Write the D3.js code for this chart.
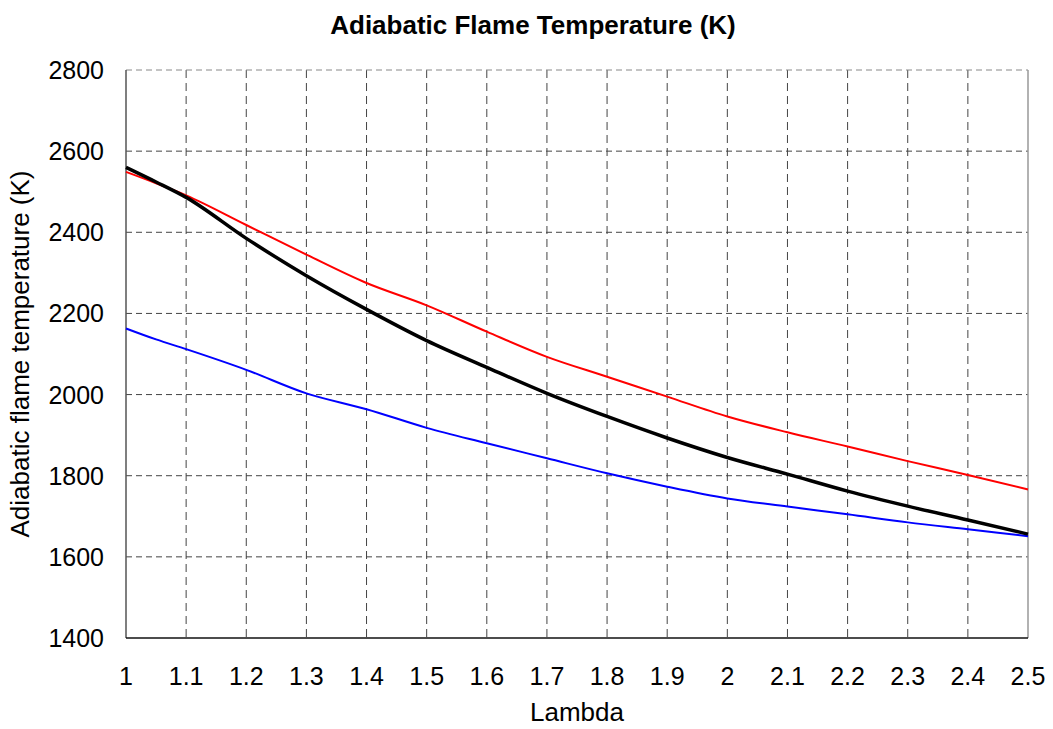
<!DOCTYPE html>
<html>
<head>
<meta charset="utf-8">
<script src="https://cdn.jsdelivr.net/npm/d3@7"></script>
<style>
  body { margin: 0; background: #fff; }
  text { font-family: "Liberation Sans", Arial, sans-serif; fill: #000; }
</style>
</head>
<body>
<div id="chart"></div>
<script>
// data
const lambda = [1.0, 1.05, 1.1, 1.2, 1.3, 1.4, 1.5, 1.6, 1.7, 1.8, 1.9, 2.0, 2.1, 2.2, 2.3, 2.4, 2.5];
const blackSeries = [2560, 2524, 2486, 2385, 2293, 2210, 2133, 2067, 2003, 1946, 1893, 1845, 1804, 1762, 1725, 1691, 1656];
const redSeries = [2549, 2521, 2491, 2418, 2345, 2275, 2220, 2155, 2093, 2044, 1995, 1946, 1907, 1872, 1836, 1802, 1766];
const blueSeries = [2163, 2136, 2112, 2061, 2003, 1964, 1918, 1880, 1843, 1806, 1773, 1744, 1724, 1705, 1685, 1668, 1651];
const xTicks = [1, 1.1, 1.2, 1.3, 1.4, 1.5, 1.6, 1.7, 1.8, 1.9, 2, 2.1, 2.2, 2.3, 2.4, 2.5];
const yTicks = [1400, 1600, 1800, 2000, 2200, 2400, 2600, 2800];

const width = 1053, height = 729;
const margin = {top: 70, right: 25, bottom: 91, left: 126};

const svg = d3.select("#chart").append("svg")
  .attr("width", width)
  .attr("height", height);

const x = d3.scaleLinear().domain([1, 2.5]).range([margin.left, width - margin.right]);
const y = d3.scaleLinear().domain([1400, 2800]).range([height - margin.bottom, margin.top]);

// grid
svg.append("g").selectAll("line")
  .data(xTicks.slice(1, -1))
  .join("line")
  .attr("x1", d => x(d)).attr("x2", d => x(d))
  .attr("y1", y(2800)).attr("y2", y(1400))
  .attr("stroke", "#444").attr("stroke-width", 1)
  .attr("stroke-dasharray", "8,5");

svg.append("g").selectAll("line")
  .data(yTicks.slice(1))
  .join("line")
  .attr("x1", x(1)).attr("x2", x(2.5))
  .attr("y1", d => y(d)).attr("y2", d => y(d))
  .attr("stroke", d => d === 2800 ? "#888" : "#444").attr("stroke-width", 1)
  .attr("stroke-dasharray", "6,4");

// frame
svg.append("line")
  .attr("x1", x(1)).attr("x2", x(1)).attr("y1", y(2800)).attr("y2", y(1400))
  .attr("stroke", "#555").attr("stroke-width", 1.5);
svg.append("line")
  .attr("x1", x(2.5)).attr("x2", x(2.5)).attr("y1", y(2800)).attr("y2", y(1400))
  .attr("stroke", "#999").attr("stroke-width", 1.5);
svg.append("line")
  .attr("x1", x(1)).attr("x2", x(2.5)).attr("y1", y(1400)).attr("y2", y(1400))
  .attr("stroke", "#111").attr("stroke-width", 1.5);

// y tick labels
svg.append("g").selectAll("text")
  .data(yTicks)
  .join("text")
  .attr("x", 104)
  .attr("y", d => y(d) + 9)
  .attr("text-anchor", "end")
  .style("font-size", "25px")
  .text(d => d);

// x tick labels
svg.append("g").selectAll("text")
  .data(xTicks)
  .join("text")
  .attr("x", d => x(d))
  .attr("y", 685)
  .attr("text-anchor", "middle")
  .style("font-size", "25px")
  .text(d => d);

// lines
const line = d3.line()
  .x((d, i) => x(lambda[i]))
  .y(d => y(d))
  .curve(d3.curveMonotoneX);

svg.append("path").datum(blueSeries)
  .attr("d", line).attr("fill", "none")
  .attr("stroke", "#0000ff").attr("stroke-width", 2);
svg.append("path").datum(redSeries)
  .attr("d", line).attr("fill", "none")
  .attr("stroke", "#ff0000").attr("stroke-width", 2);
svg.append("path").datum(blackSeries)
  .attr("d", line).attr("fill", "none")
  .attr("stroke", "#000").attr("stroke-width", 3.5);

// titles
svg.append("text")
  .attr("x", 533).attr("y", 34)
  .attr("text-anchor", "middle")
  .style("font-size", "26px").style("font-weight", "bold")
  .text("Adiabatic Flame Temperature (K)");

svg.append("text")
  .attr("x", 577).attr("y", 721)
  .attr("text-anchor", "middle")
  .style("font-size", "26px")
  .text("Lambda");

svg.append("text")
  .attr("transform", "translate(29, 354) rotate(-90)")
  .attr("text-anchor", "middle")
  .style("font-size", "26px")
  .text("Adiabatic flame temperature (K)");
</script>
</body>
</html>
